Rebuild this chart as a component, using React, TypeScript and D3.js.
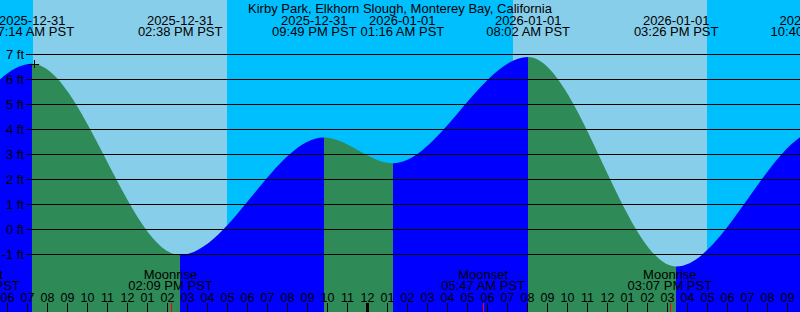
import React from "react";
import * as d3 from "d3";

const W = 800;
const H = 312;

// Hours counted from 2025-12-31 00:00 PST
const tideTimes = [-3.2, 0.917, 7.233, 14.633, 21.817, 25.267, 32.033, 39.433, 46.667, 50.27];
const tideHeights = [3.8, 2.75, 6.63, -1.02, 3.68, 2.65, 6.9, -1.48, 4.0, 2.5];
const tideDateLabels = ["", "", "2025-12-31", "2025-12-31", "2025-12-31", "2026-01-01", "2026-01-01", "2026-01-01", "2026-01-01", "2026-01-02"];
const tideTimeLabels = ["", "", "07:14 AM PST", "02:38 PM PST", "09:49 PM PST", "01:16 AM PST", "08:02 AM PST", "03:26 PM PST", "10:40 PM PST", "02:16 AM PST"];

const sunriseTimes = [7.28, 31.28];
const sunsetTimes = [16.98, 40.98];

const moonTimes = [4.52, 14.15, 29.783, 39.117];
const moonKinds = ["Moonset", "Moonrise", "Moonset", "Moonrise"];
const moonTimeLabels = ["04:31 AM PST", "02:09 PM PST", "05:47 AM PST", "03:07 PM PST"];

const footLevels = [-1, 0, 1, 2, 3, 4, 5, 6, 7];
const hourTicks = d3.range(5, 47);

const markerTime = 7.333;
const markerHeight = 6.62;

const title = "Kirby Park, Elkhorn Slough, Monterey Bay, California";

const NIGHT = "#00BFFF";
const DAY = "#87CEEB";
const FALL = "#2E8B57";
const RISE = "#0000FF";
const FONT = "'Liberation Sans', Arial, sans-serif";

function spreadLabels(centers: number[], width: number, gap: number): number[] {
  const out = centers.slice();
  for (let k = 0; k < 5; k++) {
    for (let i = 0; i < out.length - 1; i++) {
      const need = width + gap - (out[i + 1] - out[i]);
      if (need > 0) {
        out[i] -= need / 2;
        out[i + 1] += need / 2;
      }
    }
  }
  return out;
}

export default function App() {
  const x = d3.scaleLinear().domain([5.625, 45.625]).range([0, W]);
  const y = d3.scaleLinear().domain([-1, 7]).range([254.5, 54.5]);

  const pts: [number, number][] = tideTimes.map((t, i) => [t, tideHeights[i]]);
  const area = d3
    .area<[number, number]>()
    .x((d) => x(d[0]))
    .y0(H)
    .y1((d) => y(d[1]))
    .curve(d3.curveMonotoneX);
  const areaPath = area(pts) || "";

  const dayRects = sunriseTimes.map((sr, i) => ({
    x0: Math.round(x(sr)),
    x1: Math.round(x(sunsetTimes[i])),
  }));

  const segs = tideTimes.slice(0, -1).map((t, i) => ({
    x0: Math.round(x(t)),
    x1: Math.round(x(tideTimes[i + 1])),
    rising: tideHeights[i + 1] > tideHeights[i],
  }));

  const labelIdx = tideTimes.map((_, i) => i).filter((i) => tideTimeLabels[i] !== "");
  const labelCenters = spreadLabels(labelIdx.map((i) => x(tideTimes[i])), 85, 3);

  const fmtHour = (h: number) => {
    const hh = ((h % 24) + 24) % 24;
    let v = hh % 12;
    if (v === 0) v = 12;
    return String(v).padStart(2, "0");
  };

  const mx = x(markerTime);
  const my = y(markerHeight);

  return (
    <svg
      width={W}
      height={H}
      style={{ position: "absolute", left: 0, top: 0, display: "block" }}
      fontFamily={FONT}
    >
      <defs>
        {segs.map((s, i) => (
          <clipPath id={`seg${i}`} key={i}>
            <rect x={s.x0} y={0} width={s.x1 - s.x0} height={H} />
          </clipPath>
        ))}
      </defs>
      <rect x={0} y={0} width={W} height={H} fill={NIGHT} />
      {dayRects.map((r, i) => (
        <rect key={i} x={r.x0} y={0} width={r.x1 - r.x0} height={H} fill={DAY} />
      ))}
      {segs.map((s, i) => (
        <path key={i} d={areaPath} fill={s.rising ? RISE : FALL} clipPath={`url(#seg${i})`} />
      ))}
      {footLevels.map((f) => (
        <line
          key={f}
          x1={26}
          x2={W}
          y1={Math.round(y(f)) - 0.5}
          y2={Math.round(y(f)) - 0.5}
          stroke="#000"
          strokeWidth={1}
        />
      ))}
      {footLevels.map((f) => (
        <text key={f} x={24} y={y(f) + 4.5} textAnchor="end" fontSize={13} fill="#000">
          {`${f} ft`}
        </text>
      ))}
      <text x={W / 2} y={12.5} textAnchor="middle" fontSize={13} fill="#000">
        {title}
      </text>
      {labelIdx.map((i, k) => (
        <g key={i}>
          <text x={labelCenters[k]} y={24.5} textAnchor="middle" fontSize={13} fill="#000">
            {tideDateLabels[i]}
          </text>
          <text x={labelCenters[k]} y={36} textAnchor="middle" fontSize={13} fill="#000">
            {tideTimeLabels[i]}
          </text>
        </g>
      ))}
      {moonTimes.map((t, i) => (
        <g key={i}>
          <text x={x(t)} y={278.5} textAnchor="middle" fontSize={13} fill="#000">
            {moonKinds[i]}
          </text>
          <text x={x(t)} y={290} textAnchor="middle" fontSize={13} fill="#000">
            {moonTimeLabels[i]}
          </text>
        </g>
      ))}
      {hourTicks.map((h) => (
        <g key={h}>
          <text x={x(h)} y={302} textAnchor="middle" fontSize={12.5} fill="#000">
            {fmtHour(h)}
          </text>
          <line
            x1={x(h)}
            x2={x(h)}
            y1={303}
            y2={H}
            stroke="#000"
            strokeWidth={h % 24 === 0 ? 3 : 1}
          />
        </g>
      ))}
      {moonTimes.map((t, i) => (
        <line
          key={i}
          x1={Math.round(x(t)) + 0.5}
          x2={Math.round(x(t)) + 0.5}
          y1={303}
          y2={H}
          stroke="#FF0000"
          strokeWidth={1}
        />
      ))}
      <line x1={mx - 5} x2={mx + 5} y1={Math.round(my) + 0.5} y2={Math.round(my) + 0.5} stroke="#000" />
      <line x1={Math.round(mx) + 0.5} x2={Math.round(mx) + 0.5} y1={my - 4} y2={my + 4} stroke="#000" />
    </svg>
  );
}
